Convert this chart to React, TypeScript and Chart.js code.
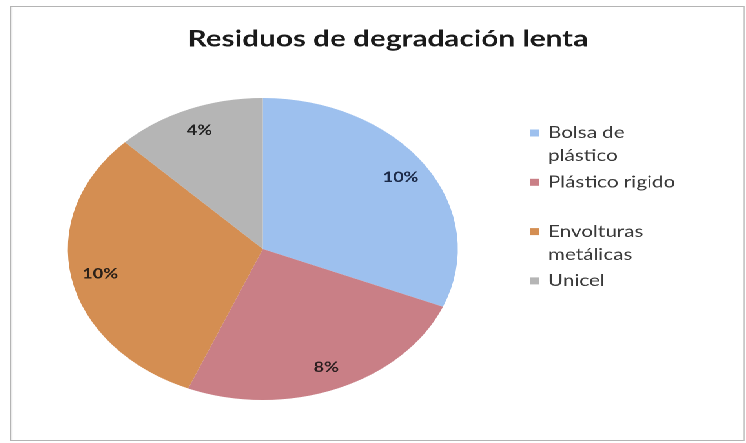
import React, { useEffect, useRef } from 'react';
import { Chart, registerables } from 'chart.js';

Chart.register(...registerables);

const TITLE = 'Residuos de degradación lenta';
const categories = ['Bolsa de plástico', 'Plástico rigido', 'Envolturas metálicas', 'Unicel'];
const legendLines = [['Bolsa de', 'plástico'], ['Plástico rigido'], ['Envolturas', 'metálicas'], ['Unicel']];
const values = [10, 8, 10, 4];
const valueLabels = ['10%', '8%', '10%', '4%'];
const colors = ['#9DC0EE', '#C97F86', '#D48E52', '#B5B5B5'];
const labelColors = ['#1C2A48', '#2a1e1f', '#2a2018', '#222222'];

const SX = 1.2913;
const CW = 567;
const CH = 433;

const annotate = {
  id: 'annotate',
  afterDraw(chart: any) {
    const ctx = chart.ctx as CanvasRenderingContext2D;
    ctx.save();
    // title
    ctx.font = 'bold 23px Lato';
    ctx.fillStyle = '#1a1a1a';
    ctx.textAlign = 'center';
    ctx.textBaseline = 'middle';
    ctx.fillText(TITLE, 291.7, 32);

    // data labels
    const meta = chart.getDatasetMeta(0);
    ctx.font = 'bold 14px Lato';
    meta.data.forEach((arc: any, i: number) => {
      const p = arc.getProps(['x', 'y', 'startAngle', 'endAngle', 'outerRadius'], true);
      const mid = (p.startAngle + p.endAngle) / 2;
      const r = p.outerRadius * 0.85;
      ctx.fillStyle = labelColors[i];
      ctx.fillText(valueLabels[i], p.x + Math.cos(mid) * r, p.y + Math.sin(mid) * r);
    });

    // legend
    const bg = chart.data.datasets[0].backgroundColor as string[];
    ctx.font = '16px Lato';
    ctx.textAlign = 'left';
    const boxX = 401.7;
    const textX = 415.6;
    const top = 126;
    const pitch = 49.3;
    const lh = 23;
    legendLines.forEach((lines, i) => {
      const y0 = top + i * pitch;
      ctx.fillStyle = bg[i];
      ctx.fillRect(boxX, y0 - 3.5, 7, 7);
      ctx.fillStyle = '#3a3a3a';
      lines.forEach((ln, k) => ctx.fillText(ln, textX, y0 + k * lh));
    });
    ctx.restore();
  },
};

export default function App() {
  const ref = useRef<HTMLCanvasElement>(null);
  useEffect(() => {
    const chart = new Chart(ref.current!, {
      type: 'pie',
      data: {
        labels: categories,
        datasets: [{ data: values, backgroundColor: colors, borderWidth: 0 }],
      },
      options: {
        responsive: false,
        animation: false,
        devicePixelRatio: 2,
        layout: { padding: { left: 43.8, right: CW - 345.8, top: 91, bottom: CH - 393 } },
        plugins: {
          legend: { display: false },
          title: { display: false },
          tooltip: { enabled: false },
        },
      },
      plugins: [annotate],
    });
    return () => chart.destroy();
  }, []);

  return (
    <div
      style={{
        position: 'absolute',
        left: 10,
        top: 6,
        width: CW + 2,
        height: CH + 2,
        boxSizing: 'border-box',
        border: '1px solid #b4b4b4',
        background: '#fff',
        transform: `scaleX(${SX})`,
        transformOrigin: '0 0',
      }}
    >
      <canvas ref={ref} width={CW} height={CH} style={{ display: 'block', width: CW, height: CH }} />
    </div>
  );
}
